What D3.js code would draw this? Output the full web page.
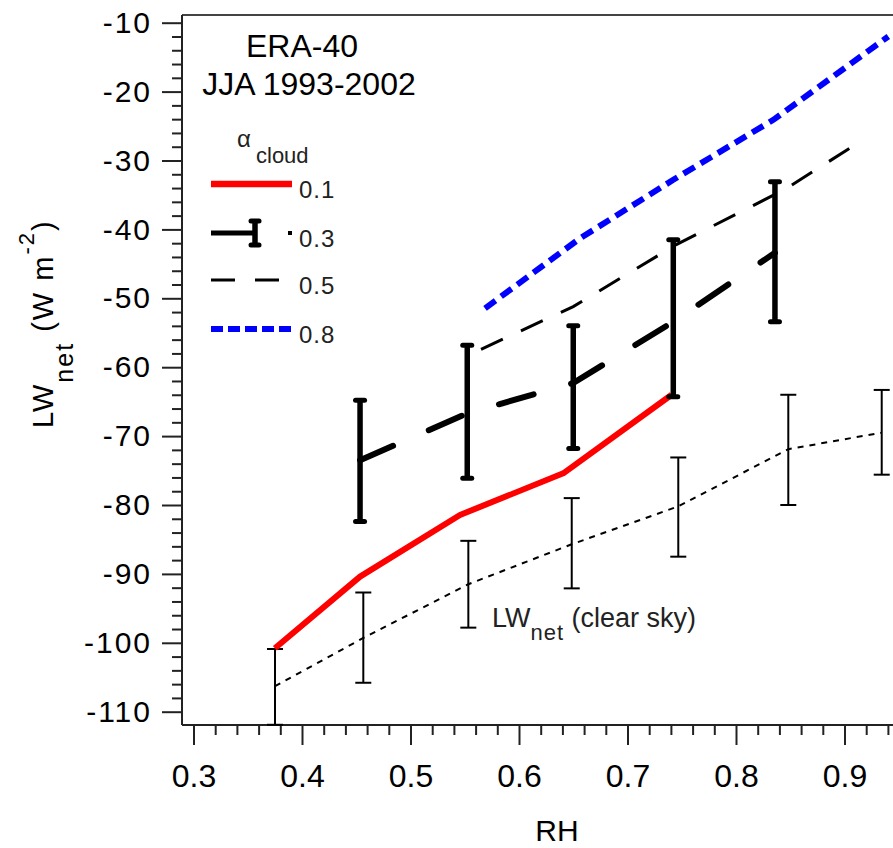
<!DOCTYPE html>
<html><head><meta charset="utf-8">
<script src="https://cdn.jsdelivr.net/npm/d3@7"></script>
<style>
body{margin:0;background:#fff;}
text{font-family:"Liberation Sans",Arial,sans-serif;}
</style>
</head><body>
<svg id="c" width="893" height="848"></svg>
<script>
// ---------- data ----------
const xTickValues = [0.3, 0.4, 0.5, 0.6, 0.7, 0.8, 0.9];
const yTickValues = [-110, -100, -90, -80, -70, -60, -50, -40, -30, -20, -10];

// alpha_cloud = 0.1 (red solid)
const a01RH = [0.375, 0.4535, 0.5456, 0.6408, 0.7407];
const a01LW = [-100.8, -90.4, -81.45, -75.4, -64.0];
// alpha_cloud = 0.3 (thick dashed, error bars)
const a03RH = [0.4535, 0.5523, 0.650, 0.7422, 0.8359];
const a03LW = [-73.5, -66.7, -62.3, -53.4, -43.4];
const a03Low = [-82.4, -76.1, -71.8, -64.3, -53.4];
const a03High = [-64.8, -56.8, -54.0, -41.5, -33.1];
// alpha_cloud = 0.5 (thin dashed)
const a05RH = [0.565, 0.650, 0.745, 0.845, 0.918];
const a05LW = [-57.4, -51.2, -42.2, -34.2, -26.9];
// alpha_cloud = 0.8 (blue dotted)
const a08RH = [0.5687, 0.6562, 0.7422, 0.8344, 0.9404];
const a08LW = [-51.45, -41.3, -32.8, -24.1, -12.0];
// clear sky (thin dotted, error bars)
const clearRH = [0.3751, 0.4565, 0.5533, 0.6486, 0.7468, 0.8482, 0.9343];
const clearLW = [-106.3, -99.3, -91.5, -85.7, -80.2, -71.9, -69.5];
const clearLow = [-111.9, -105.8, -97.8, -92.1, -87.5, -80.0, -75.6];
const clearHigh = [-100.9, -92.7, -85.2, -79.0, -73.1, -64.0, -63.3];

const legendLabels = ["0.1", "0.3", "0.5", "0.8"];

// ---------- chart ----------
const svg = d3.select("#c");
svg.append("rect").attr("width", 893).attr("height", 848).attr("fill", "#fff");

const x = d3.scaleLinear().domain([0.3, 0.9]).range([193.5, 844.5]);
const y = d3.scaleLinear().domain([-110, -10]).range([711.7, 22.7]);
const frameL = 182, frameB = 725, frameT = 15, frameR = 893;

const line = d3.line().x(d => x(d[0])).y(d => y(d[1]));

// frame
const axisColor = "#222";
svg.append("line").attr("x1", frameL).attr("x2", frameR).attr("y1", frameT).attr("y2", frameT)
  .attr("stroke", "#444").attr("stroke-width", 2);
svg.append("line").attr("x1", frameL).attr("x2", frameL).attr("y1", frameT).attr("y2", frameB)
  .attr("stroke", axisColor).attr("stroke-width", 2);
svg.append("line").attr("x1", frameL).attr("x2", frameR).attr("y1", frameB).attr("y2", frameB)
  .attr("stroke", axisColor).attr("stroke-width", 2);

// axes
const yMinor = d3.range(-55, -5).map(i => i * 2).filter(v => v % 10 !== 0);
const xMinor = d3.range(16, 48).filter(i => i % 5 !== 0).map(i => +(i * 0.02).toFixed(2));

function styleAxis(g) {
  g.select(".domain").remove();
  g.selectAll(".tick line").attr("stroke", axisColor).attr("stroke-width", 2);
  g.selectAll(".tick text").attr("fill", "#000").attr("font-family", '"Liberation Sans",Arial,sans-serif');
}

svg.append("g").attr("transform", `translate(${frameL},0)`)
  .call(d3.axisLeft(y).tickValues(yMinor).tickSize(10).tickFormat(""))
  .call(styleAxis);
const gy = svg.append("g").attr("transform", `translate(${frameL},0)`)
  .call(d3.axisLeft(y).tickValues(yTickValues).tickSize(20).tickPadding(10).tickFormat(d => String(d)))
  .call(styleAxis);
gy.selectAll(".tick text").attr("font-size", 30).attr("letter-spacing", 2);

svg.append("g").attr("transform", `translate(0,${frameB})`)
  .call(d3.axisBottom(x).tickValues(xMinor).tickSize(10).tickFormat(""))
  .call(styleAxis);
const gx = svg.append("g").attr("transform", `translate(0,${frameB})`)
  .call(d3.axisBottom(x).tickValues(xTickValues).tickSize(20).tickPadding(19).tickFormat(d3.format(".1f")))
  .call(styleAxis);
gx.selectAll(".tick text").attr("font-size", 32);

// axis titles
svg.append("text").attr("x", 557).attr("y", 841).attr("text-anchor", "middle")
  .attr("font-size", 30).attr("fill", "#000").text("RH");

const yt = svg.append("text").attr("transform", "translate(53,428) rotate(-90)")
  .attr("font-size", 29).attr("letter-spacing", 2).attr("fill", "#000");
yt.append("tspan").text("LW");
yt.append("tspan").attr("font-size", 25).attr("dy", 20).text("net");
yt.append("tspan").attr("dy", -20).text(" (W m");
yt.append("tspan").attr("font-size", 22).attr("dy", -19).text("-2");
yt.append("tspan").attr("dy", 19).text(")");

// ---------- series ----------
// clear sky thin dotted + error bars
svg.append("path").datum(d3.zip(clearRH, clearLW)).attr("d", line)
  .attr("fill", "none").attr("stroke", "#000").attr("stroke-width", 2)
  .attr("stroke-dasharray", "6,6");
const cg = svg.append("g").attr("stroke", "#000").attr("stroke-width", 2);
clearRH.forEach((r, i) => {
  cg.append("line").attr("x1", x(r)).attr("x2", x(r)).attr("y1", y(clearLow[i])).attr("y2", y(clearHigh[i]));
  [clearLow[i], clearHigh[i]].forEach(v =>
    cg.append("line").attr("x1", x(r) - 8).attr("x2", x(r) + 8).attr("y1", y(v)).attr("y2", y(v)));
});

// 0.5 thin dashed
svg.append("path").datum(d3.zip(a05RH, a05LW)).attr("d", line)
  .attr("fill", "none").attr("stroke", "#000").attr("stroke-width", 3)
  .attr("stroke-dasharray", "24,20");

// 0.8 blue dotted
svg.append("path").datum(d3.zip(a08RH, a08LW)).attr("d", line)
  .attr("fill", "none").attr("stroke", "#0000ff").attr("stroke-width", 6)
  .attr("stroke-dasharray", "13,7");

// 0.1 red solid
svg.append("path").datum(d3.zip(a01RH, a01LW)).attr("d", line)
  .attr("fill", "none").attr("stroke", "#ff0000").attr("stroke-width", 6)
  .attr("stroke-linejoin", "round");

// 0.3 thick dashed + thick error bars
svg.append("path").datum(d3.zip(a03RH, a03LW)).attr("d", line)
  .attr("fill", "none").attr("stroke", "#000").attr("stroke-width", 6)
  .attr("stroke-linecap", "round").attr("stroke-dasharray", "36,39");
const tg = svg.append("g").attr("stroke", "#000");
a03RH.forEach((r, i) => {
  tg.append("line").attr("x1", x(r)).attr("x2", x(r)).attr("y1", y(a03Low[i])).attr("y2", y(a03High[i]))
    .attr("stroke-width", 5.5);
  [a03Low[i], a03High[i]].forEach(v =>
    tg.append("line").attr("x1", x(r) - 4.5).attr("x2", x(r) + 4.5).attr("y1", y(v)).attr("y2", y(v))
      .attr("stroke-width", 5).attr("stroke-linecap", "round"));
});

// ---------- annotations ----------
svg.append("text").attr("x", 302).attr("y", 57).attr("text-anchor", "middle")
  .attr("font-size", 32).attr("fill", "#000").text("ERA-40");
svg.append("text").attr("x", 309).attr("y", 95).attr("text-anchor", "middle")
  .attr("font-size", 32).attr("fill", "#000").text("JJA 1993-2002");

// legend
const lg = svg.append("g");
lg.append("text").attr("x", 237).attr("y", 147).attr("font-size", 24).attr("fill", "#222").text("α");
lg.append("text").attr("x", 256).attr("y", 163).attr("font-size", 22).attr("fill", "#222").text("cloud");

const legY = [184, 233, 280, 329];
// 0.1
lg.append("line").attr("x1", 211).attr("x2", 292).attr("y1", legY[0]).attr("y2", legY[0])
  .attr("stroke", "#ff0000").attr("stroke-width", 6.5);
// 0.3
lg.append("line").attr("x1", 211).attr("x2", 255).attr("y1", legY[1]).attr("y2", legY[1])
  .attr("stroke", "#000").attr("stroke-width", 5);
lg.append("line").attr("x1", 255).attr("x2", 255).attr("y1", legY[1] - 12).attr("y2", legY[1] + 12)
  .attr("stroke", "#000").attr("stroke-width", 5.5);
[legY[1] - 12, legY[1] + 12].forEach(v =>
  lg.append("line").attr("x1", 251).attr("x2", 259).attr("y1", v).attr("y2", v)
    .attr("stroke", "#000").attr("stroke-width", 5).attr("stroke-linecap", "round"));
lg.append("line").attr("x1", 288).attr("x2", 292).attr("y1", legY[1]).attr("y2", legY[1])
  .attr("stroke", "#000").attr("stroke-width", 4);
// 0.5
lg.append("line").attr("x1", 211).attr("x2", 281).attr("y1", legY[2]).attr("y2", legY[2])
  .attr("stroke", "#000").attr("stroke-width", 3).attr("stroke-dasharray", "24,20");
// 0.8
lg.append("line").attr("x1", 211).attr("x2", 293).attr("y1", legY[3]).attr("y2", legY[3])
  .attr("stroke", "#0000ff").attr("stroke-width", 6).attr("stroke-dasharray", "12,5");

legendLabels.forEach((t, i) =>
  lg.append("text").attr("x", 299).attr("y", legY[i] + 14).attr("font-size", 24)
    .attr("letter-spacing", 1).attr("fill", "#222").text(t));

// clear-sky label
const cs = svg.append("text").attr("x", 492).attr("y", 627).attr("font-size", 27).attr("fill", "#222");
cs.append("tspan").text("LW");
cs.append("tspan").attr("font-size", 22).attr("dy", 13).attr("letter-spacing", 1).text("net");
cs.append("tspan").attr("dy", -13).text(" (clear sky)");
</script>
</body></html>
